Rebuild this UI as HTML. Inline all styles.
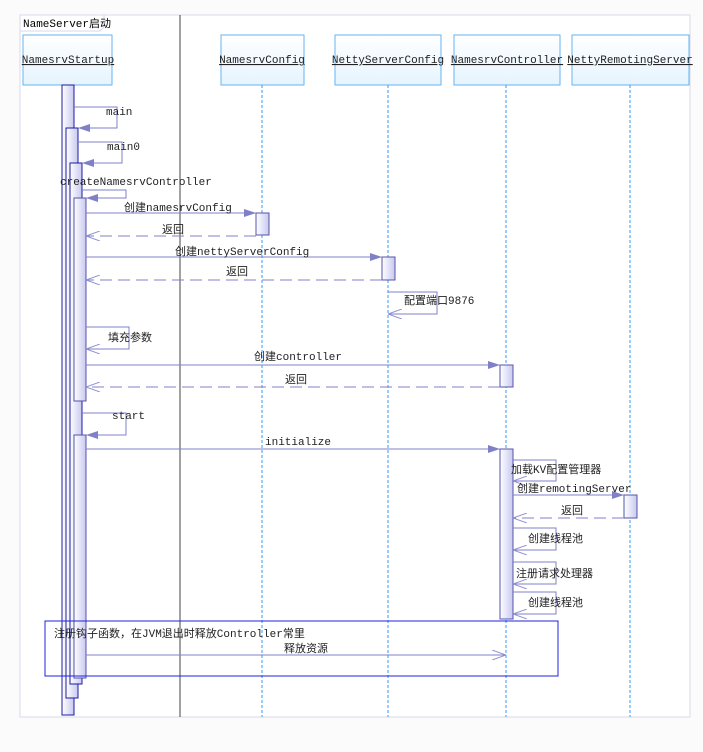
<!DOCTYPE html>
<html><head><meta charset="utf-8"><style>
body{margin:0;background:#fff;}
svg{display:block;font-family:"Liberation Mono","Noto Sans CJK SC",monospace;font-size:11px;}
</style></head><body>
<svg width="703" height="752" viewBox="0 0 703 752" xmlns="http://www.w3.org/2000/svg">
<defs>
<linearGradient id="hg" x1="0" y1="0" x2="0" y2="1"><stop offset="0" stop-color="#fff"/><stop offset="1" stop-color="#e6f4fd"/></linearGradient>
<linearGradient id="ag" x1="0" y1="0" x2="1" y2="0"><stop offset="0" stop-color="#fff"/><stop offset="1" stop-color="#c8c8f0"/></linearGradient>
<marker id="fa" markerWidth="12" markerHeight="8" refX="12" refY="4" orient="auto" markerUnits="userSpaceOnUse"><path d="M0,0 L12,4 L0,8 z" fill="#8080c8"/></marker>
<marker id="oa" markerWidth="14" markerHeight="10" refX="14" refY="5" orient="auto" markerUnits="userSpaceOnUse"><path d="M0,0 L14,5 L0,10" fill="none" stroke="#9090d0"/></marker>
</defs>
<rect x="0" y="0" width="703" height="752" fill="#fbfbfb"/>
<rect x="20" y="15" width="670" height="702" fill="#fff" stroke="#d8d8ec"/>
<path d="M20,31 H100 L104,27 V15" fill="none" stroke="#d8d8ec"/>
<text x="23" y="27">NameServer启动</text>
<line x1="180" y1="15" x2="180" y2="717" stroke="#444"/>
<g fill="url(#hg)" stroke="#66b4f0">
<rect x="23" y="35" width="89" height="50"/><rect x="221" y="35" width="83" height="50"/>
<rect x="335" y="35" width="106" height="50"/><rect x="454" y="35" width="106" height="50"/>
<rect x="572" y="35" width="117" height="50"/></g>
<g text-anchor="middle" text-decoration="underline" fill="#222">
<text x="68" y="63">NamesrvStartup</text><text x="262" y="63">NamesrvConfig</text>
<text x="388" y="63">NettyServerConfig</text><text x="507" y="63">NamesrvController</text>
<text x="630" y="63">NettyRemotingServer</text></g>
<g stroke="#3399ff" stroke-dasharray="3,2"><line x1="262" y1="85" x2="262" y2="717"/><line x1="388" y1="85" x2="388" y2="717"/><line x1="506" y1="85" x2="506" y2="717"/><line x1="630" y1="85" x2="630" y2="717"/></g>
<g fill="url(#ag)" stroke="#1c1ca0">
<rect x="62" y="85" width="12" height="630"/><rect x="66" y="128" width="12" height="570"/>
<rect x="70" y="163" width="12" height="521"/></g>
<g fill="url(#ag)" stroke="#5555aa">
<rect x="74" y="198" width="12" height="203"/><rect x="74" y="435" width="12" height="243"/>
<rect x="256" y="213" width="13" height="22"/><rect x="382" y="257" width="13" height="23"/>
<rect x="500" y="365" width="13" height="22"/><rect x="500" y="449" width="13" height="170"/>
<rect x="624" y="495" width="13" height="23"/></g>
<g stroke="#8080c8" fill="none">
<path d="M74,107 H117 V128 H78" marker-end="url(#fa)"/>
<path d="M78,142 H122 V163 H82" marker-end="url(#fa)"/>
<path d="M82,190 H126 V198 H86" marker-end="url(#fa)"/>
<path d="M86,213 H256" marker-end="url(#fa)"/>
<path d="M256,236 H86" stroke-dasharray="12,6" marker-end="url(#oa)"/>
<path d="M86,257 H382" marker-end="url(#fa)"/>
<path d="M382,280 H86" stroke-dasharray="12,6" marker-end="url(#oa)"/>
<path d="M388,292 H437 V314 H388" marker-end="url(#oa)"/>
<path d="M86,327 H129 V349 H86" marker-end="url(#oa)"/>
<path d="M86,365 H500" marker-end="url(#fa)"/>
<path d="M500,387 H86" stroke-dasharray="12,6" marker-end="url(#oa)"/>
<path d="M82,413 H126 V435 H86" marker-end="url(#fa)"/>
<path d="M86,449 H500" marker-end="url(#fa)"/>
<path d="M513,460 H556 V481 H513" marker-end="url(#oa)"/>
<path d="M513,495 H624" marker-end="url(#fa)"/>
<path d="M624,518 H513" stroke-dasharray="12,6" marker-end="url(#oa)"/>
<path d="M513,528 H556 V550 H513" marker-end="url(#oa)"/>
<path d="M513,562 H556 V584 H513" marker-end="url(#oa)"/>
<path d="M513,592 H556 V614 H513" marker-end="url(#oa)"/>
<path d="M86,655 H506" marker-end="url(#oa)"/>
</g>
<rect x="45" y="621" width="513" height="55" fill="none" stroke="#2020e0"/>
<g fill="#222">
<text x="106" y="115">main</text><text x="107" y="150">main0</text>
<text x="60" y="185">createNamesrvController</text>
<text x="124" y="211">创建namesrvConfig</text><text x="162" y="233">返回</text>
<text x="175" y="255">创建nettyServerConfig</text><text x="226" y="275">返回</text>
<text x="404" y="304">配置端口9876</text><text x="108" y="341">填充参数</text>
<text x="254" y="360">创建controller</text><text x="285" y="383">返回</text>
<text x="112" y="419">start</text><text x="265" y="445">initialize</text>
<text x="511" y="473">加载KV配置管理器</text><text x="517" y="492">创建remotingServer</text>
<text x="561" y="514">返回</text><text x="528" y="542">创建线程池</text>
<text x="516" y="577">注册请求处理器</text><text x="528" y="606">创建线程池</text>
<text x="54" y="637">注册钩子函数，在JVM退出时释放Controller常里</text>
<text x="284" y="652">释放资源</text></g>
</svg>
</body></html>
